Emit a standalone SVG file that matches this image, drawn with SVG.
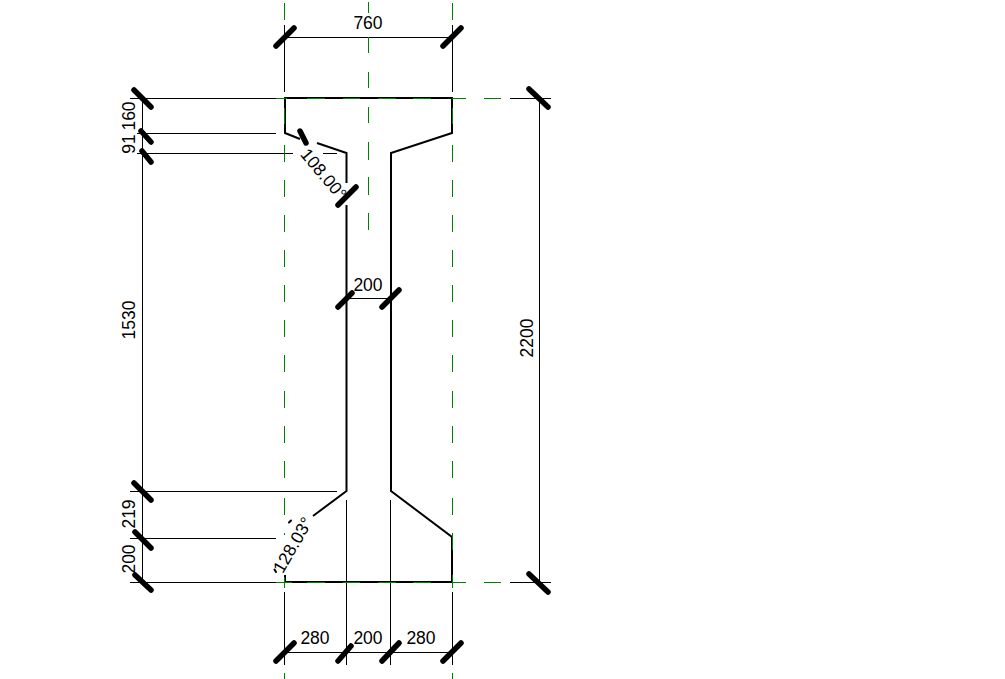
<svg xmlns="http://www.w3.org/2000/svg" width="1005" height="679" viewBox="0 0 1005 679">
<style>
.g{stroke:#008000;stroke-width:1;fill:none}
.d{stroke:#000;stroke-width:1;fill:none}
.w{stroke:#000;stroke-width:2;fill:none}
.t{stroke:#000;stroke-width:5.5;stroke-linecap:round;fill:none}
.m{stroke:#000;stroke-width:2;stroke-linecap:round;fill:none}
text{font-family:"Liberation Sans",Arial,sans-serif;font-size:17.5px;fill:#000;text-anchor:middle}
</style>
<rect width="1005" height="679" fill="#fff"/>
<g id="connectors">
<g id="dimension-lines">
<path class="d" d="M284.500 25V92M452.500 25V92M284.500 592V665M452.500 592V665M346.500 500V665M390.500 500V665M284.500 37.500H452.500M284.500 652.500H452.500M346.500 298.500H390.500"/>
<path class="d" d="M142.500 98V582M130 98.500H285M137 133.500H276M137 153.500H293M323 153.500H337M130 491.500H337M130 538.500H276M130 582.500H285"/>
<path class="d" d="M539.500 98V582M510 98.500H551M510 582.500H551"/>
</g>
<g id="beam-outline">
<path class="w" d="M300 139L285 133V98H452V133L391 153V491L452 537V582H285V575"/>
<path class="w" d="M317 143L346.500 153V183M346.500 205V491L313 516"/>
</g>
<g id="grid-lines">
<path class="g" d="M284.500 3V20M284.500 108V124M284.500 145V162M284.500 180V197M284.500 215V232M284.500 250V267M284.500 285V302M284.500 320V337M284.500 355V372M284.500 391V408M284.500 426V443M284.500 461V478M284.500 498V515M284.500 533V535M284.500 577V588M284.500 673V679"/>
<path class="g" d="M368.500 2V13M368.500 37V53M368.500 72V88M368.500 107V123M368.500 142V160M368.500 177V195M368.500 213V230"/>
<path class="g" d="M452.500 3V20M452.500 108V124M452.500 145V162M452.500 180V197M452.500 215V232M452.500 250V267M452.500 285V302M452.500 320V337M452.500 355V372M452.500 391V408M452.500 426V443M452.500 461V478M452.500 498V515M452.500 533V550M452.500 575V588M452.500 673V679"/>
<path class="g" d="M276 98.500H287M307 98.500H325M343 98.500H360M378 98.500H396M413 98.500H431M452 98.500H466M484 98.500H501"/>
<path class="g" d="M276 582.500H292M307 582.500H325M343 582.500H360M378 582.500H396M413 582.500H431M452 582.500H466M484 582.500H501"/>
</g>
<g id="ticks">
<path class="t" d="M276 46L294 28M443 46L461 28M134 90L151 107M141 131L151 142M142 151L151 162M134 483L151 500M135 532L151 548M135 575L151 590M529 89L548 107M529 574L548 592"/>
<path class="t" d="M276 661L294 643M338 661L351 646M382 661L399 643M443 661L461 643M338 307L352 293M382 307L399 290M338 205L356 187M300 131L306 143"/>
<path class="m" d="M274.500 569.500L276 572M289 522.500L291 520.500"/>
</g>
</g>
<g id="label-760"><text x="368" y="28.500">760</text></g>
<g id="label-160"><text transform="translate(135 116) rotate(-90)">160</text></g>
<g id="label-91"><text transform="translate(135 144) rotate(-90)">91</text></g>
<g id="label-1530"><text transform="translate(135 320) rotate(-90)">1530</text></g>
<g id="label-219"><text transform="translate(135 514) rotate(-90)">219</text></g>
<g id="label-200-left"><text transform="translate(135 559) rotate(-90)">200</text></g>
<g id="label-2200"><text transform="translate(533 338) rotate(-90)">2200</text></g>
<g id="label-200-web"><text x="368" y="291">200</text></g>
<g id="label-280-left"><text x="315" y="644">280</text></g>
<g id="label-200-bottom"><text x="368" y="644">200</text></g>
<g id="label-280-right"><text x="421" y="644">280</text></g>
<g id="label-angle-top"><text transform="translate(319 178) rotate(50)">108.00°</text></g>
<g id="label-angle-bottom"><text transform="translate(298 548) rotate(-60)">128.03°</text></g>
</svg>
